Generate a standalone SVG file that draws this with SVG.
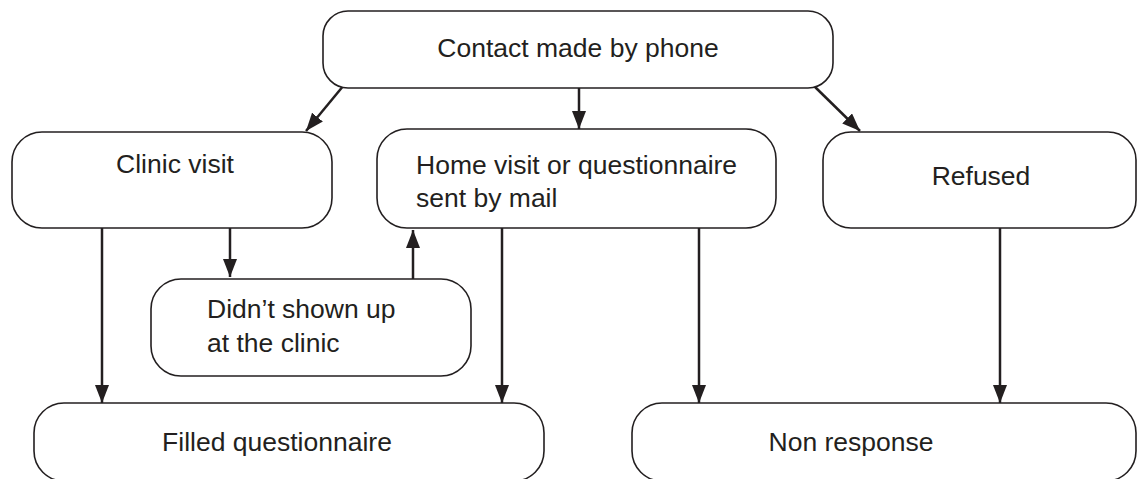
<svg xmlns="http://www.w3.org/2000/svg" width="1137" height="479" viewBox="0 0 1137 479">
<style>
.box{fill:#fff;stroke:#231f20;stroke-width:1.6}
.t{font-family:"Liberation Sans",Arial,sans-serif;font-size:26.5px;fill:#231f20}
.c{text-anchor:middle}
.e{stroke:#231f20;stroke-width:2.5;fill:none;marker-end:url(#ah)}
</style>
<defs>
<marker id="ah" markerUnits="userSpaceOnUse" markerWidth="19" markerHeight="14" refX="18" refY="7" orient="auto" viewBox="0 0 19 14">
<path d="M0,0 L18,7 L0,14 z" fill="#231f20"/>
</marker>
</defs>
<rect width="1137" height="479" fill="#fff"/>
<g id="connectors">
<line class="e" x1="344" y1="85" x2="306" y2="131"/>
<line class="e" x1="579" y1="88" x2="579" y2="129"/>
<line class="e" x1="813" y1="85" x2="860" y2="131"/>
<line class="e" x1="102" y1="228" x2="102" y2="403"/>
<line class="e" x1="230" y1="228" x2="230" y2="277"/>
<line class="e" x1="413" y1="279" x2="413" y2="230"/>
<line class="e" x1="502" y1="228" x2="502" y2="403"/>
<line class="e" x1="699" y1="228" x2="699" y2="403"/>
<line class="e" x1="1000" y1="228" x2="1000" y2="403"/>
</g>
<g id="contact">
<rect class="box" x="323" y="11" width="510" height="77" rx="25"/>
<text class="t c" x="578" y="57">Contact made by phone</text>
</g>
<g id="clinic">
<rect class="box" x="12" y="132" width="320" height="96" rx="30"/>
<text class="t c" x="175" y="173">Clinic visit</text>
</g>
<g id="home">
<rect class="box" x="377" y="129" width="399" height="99" rx="30"/>
<text class="t" x="416" y="174">Home visit or questionnaire</text>
<text class="t" x="416" y="207">sent by mail</text>
</g>
<g id="refused">
<rect class="box" x="823" y="132" width="313" height="96" rx="28"/>
<text class="t c" x="981" y="185">Refused</text>
</g>
<g id="noshow">
<rect class="box" x="151" y="279" width="320" height="97" rx="30"/>
<text class="t" x="207" y="318">Didn’t shown up</text>
<text class="t" x="207" y="352">at the clinic</text>
</g>
<g id="filled">
<rect class="box" x="34" y="403" width="510" height="78" rx="30"/>
<text class="t c" x="277" y="451">Filled questionnaire</text>
</g>
<g id="nonresponse">
<rect class="box" x="632" y="403" width="504" height="78" rx="30"/>
<text class="t c" x="851" y="451">Non response</text>
</g>
</svg>
